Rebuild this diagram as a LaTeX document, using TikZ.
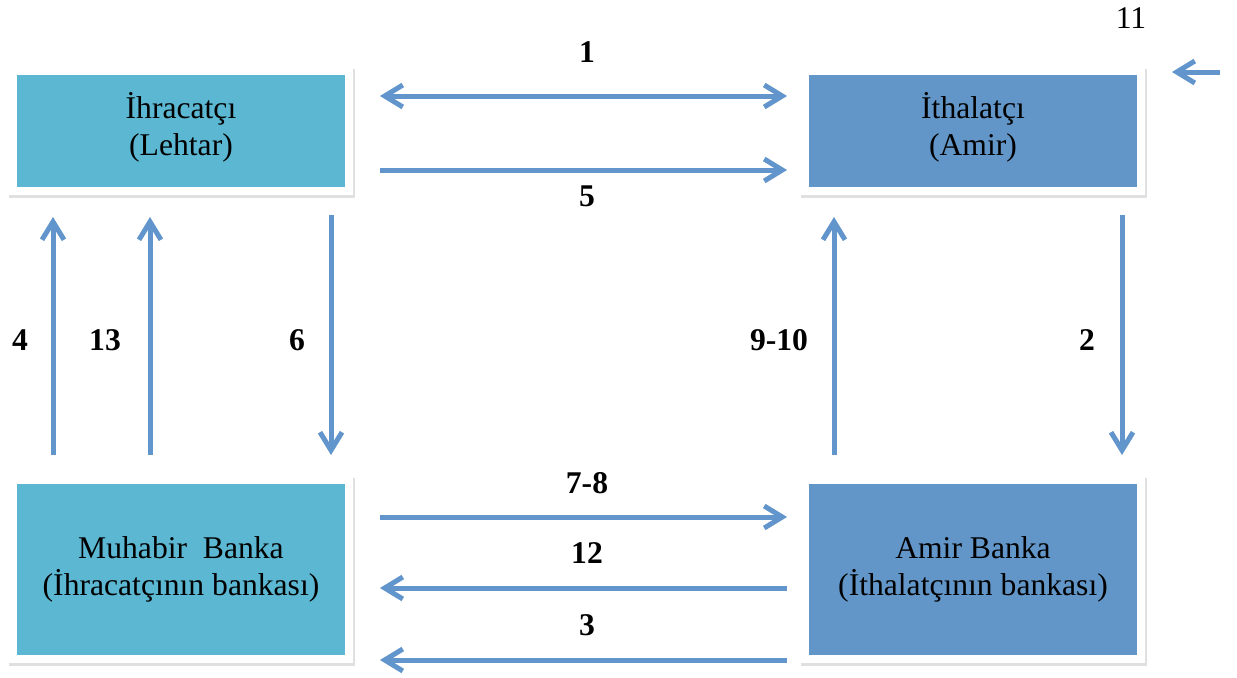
\documentclass[tikz,border=0pt]{standalone}
\usepackage{fontspec}
\setmainfont{Liberation Serif}
\usetikzlibrary{arrows.meta,shadows}
\definecolor{exblue}{RGB}{91,183,210}
\definecolor{imblue}{RGB}{98,150,200}
\definecolor{flowblue}{RGB}{97,149,203}

\begin{document}
\begin{tikzpicture}[x=0.02cm, y=-0.02cm,
  box/.style={draw=white, line width=0.16cm, inner sep=0pt,
    minimum width=6.72cm, align=center,
    font=\fontsize{18}{21}\selectfont,
    drop shadow={shadow xshift=0.02cm, shadow yshift=-0.05cm, fill=black,
      draw=black, line width=0.2cm, opacity=0.12}},
  party/.style={box, minimum height=2.4cm, text depth=0.3cm},
  bank/.style={box, minimum height=3.58cm},
  flow/.style={draw=flowblue, line width=0.1cm,
    >={Straight Barb[length=0.36cm,width=0.44cm]}},
  num/.style={font=\bfseries\fontsize{18}{22}\selectfont}]
\useasboundingbox (0,0) rectangle (1237,677);

% Parties
\node[party, fill=exblue] (ihr) at (181,131) {İhracatçı\\(Lehtar)};
\node[party, fill=imblue] (ith) at (973,131) {İthalatçı\\(Amir)};

% Banks
\node[bank, fill=exblue] (muh) at (181,569.5) {Muhabir\ \ Banka\\(İhracatçının bankası)};
\node[bank, fill=imblue] (amir) at (973,569.5) {Amir Banka\\(İthalatçının bankası)};

% Top arrows
\draw[flow, <->] ([shift={(27,-35)}]ihr.east) -- ([shift={(-14,-35)}]ith.west);
\node[num] (l1) at (587,52) {1};
\draw[flow, ->] ([shift={(27,39)}]ihr.east) -- ([shift={(-14,39)}]ith.west);
\node[num] (l5) at (587,196) {5};

% Left arrows
\draw[flow, ->] ([shift={(-128,-21)}]muh.north) -- ([shift={(-128,22)}]ihr.south);
\node[num] (l4) at (20,340) {4};
\draw[flow, ->] ([shift={(-31,-21)}]muh.north) -- ([shift={(-31,22)}]ihr.south);
\node[num] (l13) at (105,340) {13};
\draw[flow, ->] ([shift={(150,20)}]ihr.south) -- ([shift={(150,-21)}]muh.north);
\node[num] (l6) at (297,340) {6};

% Right arrows
\draw[flow, ->] ([shift={(-139,-21)}]amir.north) -- ([shift={(-139,22)}]ith.south);
\node[num] (l9) at (779,340) {9-10};
\draw[flow, ->] ([shift={(149,20)}]ith.south) -- ([shift={(149,-21)}]amir.north);
\node[num] (l2) at (1087,340) {2};

% Bottom arrows
\draw[flow, ->] ([shift={(27,-52.5)}]muh.east) -- ([shift={(-14,-52.5)}]amir.west);
\node[num] (l7) at (587,483) {7-8};
\draw[flow, <-] ([shift={(27,18.5)}]muh.east) -- ([shift={(-14,18.5)}]amir.west);
\node[num] (l12) at (587,553) {12};
\draw[flow, <-] ([shift={(27,90.5)}]muh.east) -- ([shift={(-14,90.5)}]amir.west);
\node[num] (l3) at (587,625) {3};

% Step 11
\node[font=\fontsize{18}{22}\selectfont] (l11) at (1131,18) {11};
\coordinate (s11) at (1220,72);
\coordinate (e11) at (1172,72);
\draw[flow, ->] (s11) -- (e11);
\end{tikzpicture}
\end{document}
